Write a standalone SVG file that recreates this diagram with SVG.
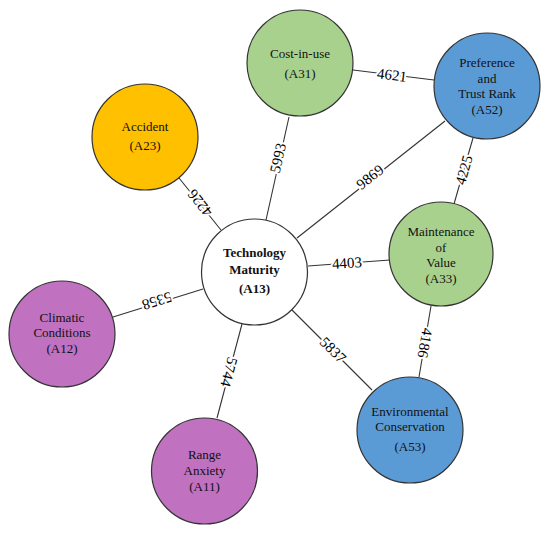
<svg xmlns="http://www.w3.org/2000/svg" width="550" height="533" viewBox="0 0 550 533">
<style>
.n{stroke:#333333;stroke-width:1.2}
.g{fill:#A9D18E}.b{fill:#5B9BD5}.o{fill:#FFC000}.p{fill:#C071C0}.w{fill:#ffffff}
.t{font-family:"Liberation Serif","Times New Roman",serif;font-size:13px;fill:#111111;text-anchor:middle}
.tb{font-weight:bold}
.e{stroke:#333333;stroke-width:1.1;fill:none}
.l{font-family:"Liberation Serif","Times New Roman",serif;font-size:15px;fill:#000000;text-anchor:middle;dominant-baseline:central;stroke:#ffffff;stroke-width:4;paint-order:stroke;stroke-linejoin:round}
</style>
<rect width="550" height="533" fill="#ffffff"/>
<g id="connectors">
<line class="e" x1="266" y1="220" x2="289" y2="117"/>
<line class="e" x1="297" y1="238" x2="445" y2="121"/>
<line class="e" x1="353" y1="70" x2="434" y2="80"/>
<line class="e" x1="473" y1="138" x2="454" y2="204"/>
<line class="e" x1="179" y1="178" x2="221" y2="230"/>
<line class="e" x1="113" y1="317" x2="203" y2="289"/>
<line class="e" x1="242" y1="324" x2="217" y2="418"/>
<line class="e" x1="292" y1="310" x2="372" y2="390"/>
<line class="e" x1="308" y1="266" x2="390" y2="260"/>
<line class="e" x1="431" y1="306" x2="419" y2="377"/>
<text class="l" transform="translate(278,158) rotate(-77)">5993</text>
<text class="l" transform="translate(370,177) rotate(-38)">9869</text>
<text class="l" transform="translate(392,75) rotate(7)">4621</text>
<text class="l" transform="translate(464,170) rotate(-74)">4225</text>
<text class="l" transform="translate(200,203) rotate(231)">4226</text>
<text class="l" transform="translate(157,301) rotate(163)">5358</text>
<text class="l" transform="translate(229,372) rotate(105)">5744</text>
<text class="l" transform="translate(333,350) rotate(45)">5837</text>
<text class="l" transform="translate(347,263) rotate(-4)">4403</text>
<text class="l" transform="translate(425,343) rotate(100)">4186</text>
</g>
<g id="A31"><circle class="n g" cx="300" cy="63" r="53"/>
<text class="t" x="300" y="58">Cost-in-use</text><text class="t" x="300" y="78">(A31)</text></g>
<g id="A52"><circle class="n b" cx="487" cy="86" r="53"/>
<text class="t" x="487" y="67">Preference</text><text class="t" x="487" y="83">and</text><text class="t" x="487" y="98">Trust Rank</text><text class="t" x="487" y="114">(A52)</text></g>
<g id="A23"><circle class="n o" cx="145" cy="137" r="53"/>
<text class="t" x="145" y="131">Accident</text><text class="t" x="145" y="150">(A23)</text></g>
<g id="A13"><circle class="n w" cx="254.5" cy="272" r="53"/>
<text class="t tb" x="254.5" y="257">Technology</text><text class="t tb" x="254.5" y="274">Maturity</text><text class="t tb" x="254.5" y="293">(A13)</text></g>
<g id="A33"><circle class="n g" cx="441" cy="254" r="52"/>
<text class="t" x="441" y="236">Maintenance</text><text class="t" x="441" y="252">of</text><text class="t" x="441" y="267">Value</text><text class="t" x="441" y="283">(A33)</text></g>
<g id="A12"><circle class="n p" cx="62" cy="334" r="53"/>
<text class="t" x="62" y="322">Climatic</text><text class="t" x="62" y="337">Conditions</text><text class="t" x="62" y="353">(A12)</text></g>
<g id="A53"><circle class="n b" cx="410" cy="430" r="53"/>
<text class="t" x="410" y="416">Environmental</text><text class="t" x="410" y="431">Conservation</text><text class="t" x="410" y="451">(A53)</text></g>
<g id="A11"><circle class="n p" cx="204.5" cy="471" r="53"/>
<text class="t" x="204.5" y="459">Range</text><text class="t" x="204.5" y="475">Anxiety</text><text class="t" x="204.5" y="491">(A11)</text></g>
</svg>
